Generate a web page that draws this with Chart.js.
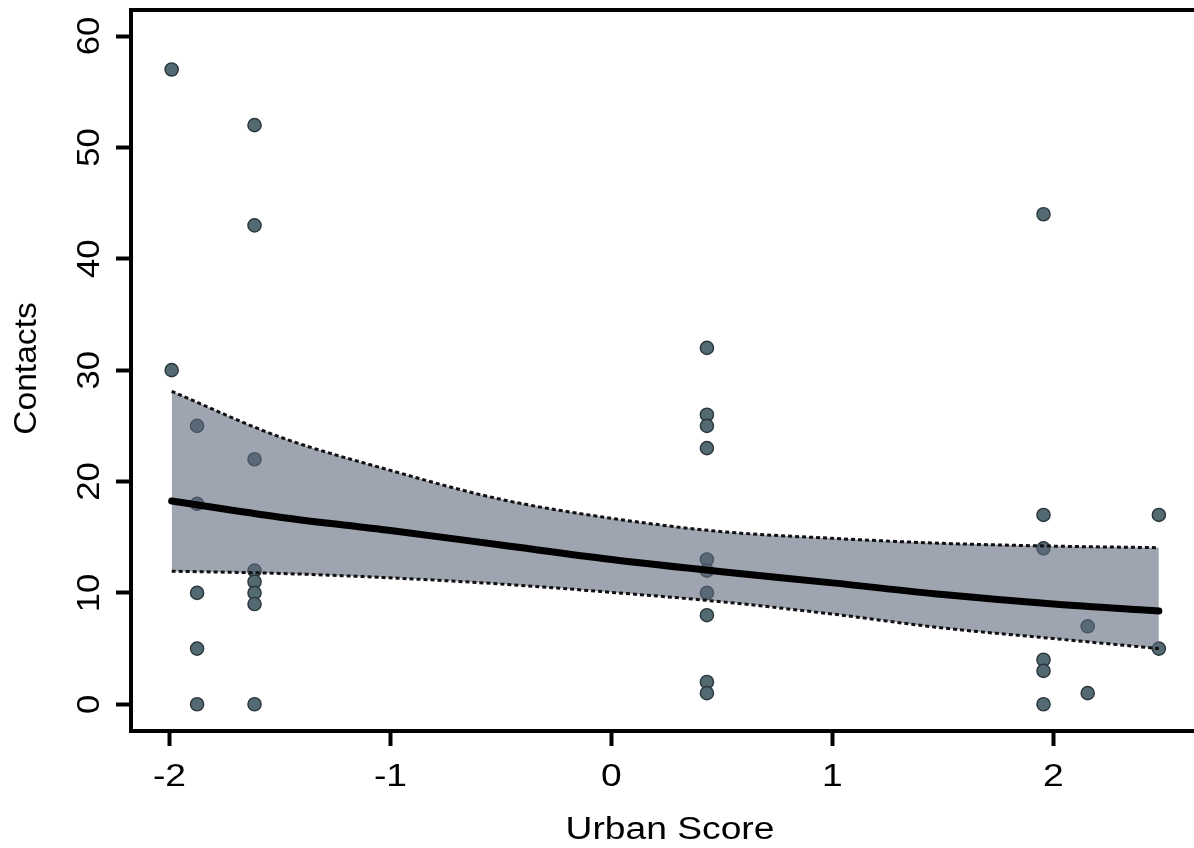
<!DOCTYPE html>
<html>
<head>
<meta charset="utf-8">
<title>Contacts by Urban Score</title>
<script src="https://cdn.jsdelivr.net/npm/chart.js@4/dist/chart.umd.min.js"></script>
<style>
  html, body { margin: 0; padding: 0; background: #fff; }
  canvas { display: block; }
</style>
</head>
<body>
<canvas id="chart" width="1194" height="848"></canvas>
<script>
// Observed contacts per site, grouped by urban score
const siteScore = [
  -1.99, -1.99,
  -1.875, -1.875, -1.875, -1.875, -1.875,
  -1.615, -1.615, -1.615, -1.615, -1.615, -1.615, -1.615, -1.615,
  0.432, 0.432, 0.432, 0.432, 0.432, 0.432, 0.432, 0.432, 0.432, 0.432,
  1.955, 1.955, 1.955, 1.955, 1.955, 1.955,
  2.155, 2.155,
  2.477, 2.477
];
const siteContacts = [
  57, 30,
  25, 18, 10, 5, 0,
  52, 43, 22, 12, 11, 10, 9, 0,
  32, 26, 25, 23, 13, 12, 10, 8, 2, 1,
  44, 17, 14, 4, 3, 0,
  7, 1,
  17, 5
];

// Fitted mean and confidence band along the urban score
const fitScore = [-1.99, -1.5, -1, -0.5, 0, 0.5, 1, 1.5, 2, 2.477];
const fitMean  = [18.25, 16.8, 15.6, 14.3, 13.0, 11.9, 10.9, 9.85, 9.0, 8.37];
const fitUpper = [28.1, 24.0, 21.0, 18.4, 16.7, 15.5, 14.9, 14.45, 14.2, 14.06];
const fitLower = [11.95, 11.75, 11.35, 10.8, 10.05, 9.2, 8.1, 6.85, 5.9, 5.0];

// Axis ticks
const xTicks = [-2, -1, 0, 1, 2];
const yTicks = [0, 10, 20, 30, 40, 50, 60];

const xTitle = 'Urban Score';
const yTitle = 'Contacts';

const pairs = (xs, ys) => xs.map((v, i) => ({ x: v, y: ys[i] }));

const TEXT_FONT = '"Liberation Sans", Arial, Helvetica, sans-serif';

// Axis labels and titles drawn slightly widened, in the style of the figure
const axisText = {
  id: 'axisText',
  afterDraw(chart) {
    const { ctx, chartArea, scales: { x, y } } = chart;
    ctx.save();
    ctx.fillStyle = '#000';
    ctx.textAlign = 'center';
    ctx.textBaseline = 'alphabetic';

    ctx.font = '31px ' + TEXT_FONT;
    xTicks.forEach(v => {
      ctx.save();
      ctx.translate(x.getPixelForValue(v), 786);
      ctx.scale(1.2, 1);
      ctx.fillText(String(v), 0, 0);
      ctx.restore();
    });
    yTicks.forEach(v => {
      ctx.save();
      ctx.translate(99, y.getPixelForValue(v));
      ctx.rotate(-Math.PI / 2);
      ctx.scale(1.12, 1);
      ctx.fillText(String(v), 0, 0);
      ctx.restore();
    });

    ctx.save();
    ctx.translate(670, 839);
    ctx.scale(1.2, 1);
    ctx.fillText(xTitle, 0, 0);
    ctx.restore();

    ctx.font = '32px ' + TEXT_FONT;
    ctx.save();
    ctx.translate(36, (chartArea.top + chartArea.bottom) / 2 - 2);
    ctx.rotate(-Math.PI / 2);
    ctx.scale(1.05, 1);
    ctx.fillText(yTitle, 0, 0);
    ctx.restore();

    ctx.restore();
  }
};

const tickMarks = {
  display: true,
  drawOnChartArea: false,
  drawTicks: true,
  tickLength: 15,
  tickWidth: 4,
  tickColor: '#000'
};

const noSidePadding = s => {
  s.paddingLeft = 0;
  s.paddingRight = 0;
};

new Chart(document.getElementById('chart'), {
  type: 'scatter',
  data: {
    datasets: [
      {
        label: 'Sites',
        data: pairs(siteScore, siteContacts),
        order: 4,
        pointRadius: 6.6,
        pointHoverRadius: 6.6,
        pointBorderWidth: 1.4,
        pointBackgroundColor: '#546a73',
        pointBorderColor: '#2a363c'
      },
      {
        label: 'Upper bound',
        data: pairs(fitScore, fitUpper),
        order: 3,
        showLine: true,
        pointRadius: 0,
        cubicInterpolationMode: 'monotone',
        borderColor: '#111',
        borderWidth: 3,
        borderDash: [4, 3],
        fill: '+1',
        backgroundColor: 'rgba(93, 105, 123, 0.6)'
      },
      {
        label: 'Lower bound',
        data: pairs(fitScore, fitLower),
        order: 2,
        showLine: true,
        pointRadius: 0,
        cubicInterpolationMode: 'monotone',
        borderColor: '#111',
        borderWidth: 3,
        borderDash: [4, 3],
        fill: false
      },
      {
        label: 'Fitted',
        data: pairs(fitScore, fitMean),
        order: 1,
        showLine: true,
        pointRadius: 0,
        cubicInterpolationMode: 'monotone',
        borderColor: '#000',
        borderWidth: 7,
        borderCapStyle: 'round',
        fill: false
      }
    ]
  },
  options: {
    responsive: false,
    devicePixelRatio: 1,
    animation: false,
    events: [],
    layout: { padding: 0, autoPadding: false },
    plugins: {
      legend: { display: false },
      tooltip: { enabled: false }
    },
    scales: {
      x: {
        type: 'linear',
        position: 'bottom',
        min: -2.174,
        max: 2.636,
        afterFit: s => { s.height = 117; noSidePadding(s); },
        afterBuildTicks: s => { s.ticks = xTicks.map(v => ({ value: v })); },
        grid: tickMarks,
        border: { display: true, color: '#000', width: 4 },
        ticks: { display: false }
      },
      xTop: {
        type: 'linear',
        position: 'top',
        min: -2.174,
        max: 2.636,
        afterFit: s => { s.height = 10; noSidePadding(s); },
        afterBuildTicks: s => { s.ticks = []; },
        grid: { display: false },
        border: { display: true, color: '#000', width: 4 },
        ticks: { display: false }
      },
      y: {
        type: 'linear',
        position: 'left',
        min: -2.4,
        max: 62.34,
        afterFit: s => { s.width = 131; s.paddingTop = 0; s.paddingBottom = 0; },
        afterBuildTicks: s => { s.ticks = yTicks.map(v => ({ value: v })); },
        grid: tickMarks,
        border: { display: true, color: '#000', width: 4 },
        ticks: { display: false }
      }
    }
  },
  plugins: [axisText]
});
</script>
</body>
</html>
